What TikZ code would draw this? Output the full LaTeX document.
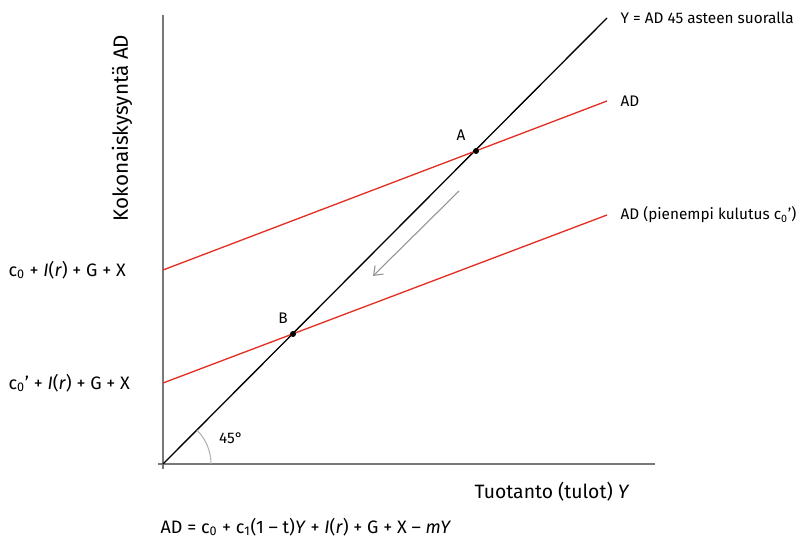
\documentclass[tikz,border=0pt]{standalone}
\usepackage{fontspec}
\setmainfont{Fira Sans}
\usepackage{xcolor}
\usetikzlibrary{
	positioning,    % posizionamento relativo
	arrows.meta     % punte di freccia
}
\definecolor{adred}{RGB}{226,48,36}
\definecolor{axisgray}{RGB}{120,120,120}
\tikzset{
	axis/.style={axisgray, line width=0.9pt},
	adline/.style={adred, line width=1pt},
	eqline/.style={black, line width=1pt},
	dot/.style={circle, fill=black, inner sep=0pt, minimum size=4.5pt},
	lab/.style={font=\fontsize{11.5}{13}\selectfont, inner sep=1pt},
	leftlab/.style={font=\fontsize{13.5}{15}\selectfont, inner sep=1pt},
	biglab/.style={font=\fontsize{14.5}{16}\selectfont, inner sep=1pt}
}
\newcommand{\czero}{c\textsubscript{0}}
\begin{document}
\begin{tikzpicture}[x=0.75pt, y=-0.75pt]
		\useasboundingbox (0,0) rectangle (810,553);
		% Definizioni (coordinate in pixel)
		\def\ox{163}   % origine x
		\def\oy{464}   % origine y
		
		% --- Assi ---
		\coordinate (O) at (\ox,\oy);
		\coordinate (ytop) at (\ox,15);
		\coordinate (ybot) at (\ox,469);
		\coordinate (xleft) at (158,\oy);
		\coordinate (xend) at (655,\oy);
		\draw[axis] (ybot) -- (ytop);
		\draw[axis] (xleft) -- (xend);
		
		% --- Rette ---
		% Retta a 45 gradi
		\coordinate (e1) at (607,18);
		\draw[eqline] (O) -- (e1);
		% AD iniziale
		\coordinate (a0) at (\ox,270);
		\coordinate (a1) at (607,101);
		\draw[adline] (a0) -- (a1);
		% AD con consumo minore
		\coordinate (b0) at (\ox,383);
		\coordinate (b1) at (607,215);
		\draw[adline] (b0) -- (b1);
		
		% --- Punti di equilibrio ---
		\node[dot] (A) at (476,151) {};
		\node[dot] (B) at (293,334) {};
		\node[lab, above left=5pt and 5pt of A] {A};
		\node[lab, above left=5pt and 1pt of B] {B};
		
		% Freccia di spostamento
		\coordinate (s0) at (459,191);
		\coordinate (s1) at (373,276);
		\draw[axisgray!80, line width=0.8pt, -{Straight Barb[length=6pt, width=9pt]}] (s0) -- (s1);
		
		% Angolo di 45 gradi (asse y rovesciato)
		\coordinate (arcstart) at (211,\oy);
		\draw[black!30, line width=0.8pt] (arcstart) arc (0:-45:48);
		\node[lab] (ang) at (231,438) {45°};
		
		% --- Etichette ---
		\node[lab, right=9pt of e1] (l45) {Y = AD 45 asteen suoralla};
		\node[lab, right=9pt of a1] (lad) {AD};
		\node[lab, right=9pt of b1] (lad2) {AD (pienempi kulutus \czero’)};
		\node[leftlab, anchor=west] (i0) at (7,270) {\czero{} + \textit{I}(\textit{r}) + G + X};
		\node[leftlab, anchor=west] (i1) at (7,383) {\czero’ + \textit{I}(\textit{r}) + G + X};
		\node[biglab, font=\fontsize{15.5}{17}\selectfont, rotate=90] (yl) at (122,128) {Kokonaiskysyntä AD};
		\node[biglab, anchor=west] (xl) at (473,492) {Tuotanto (tulot) \textit{Y}};
		\node[leftlab, font=\fontsize{13.5}{15}\selectfont, anchor=west] (eq) at (159,527)
			{AD = \czero{} + c\textsubscript{1}(1 – t)\textit{Y} + \textit{I}(\textit{r}) + G + X – \textit{mY}};
	\end{tikzpicture}
\end{document}
